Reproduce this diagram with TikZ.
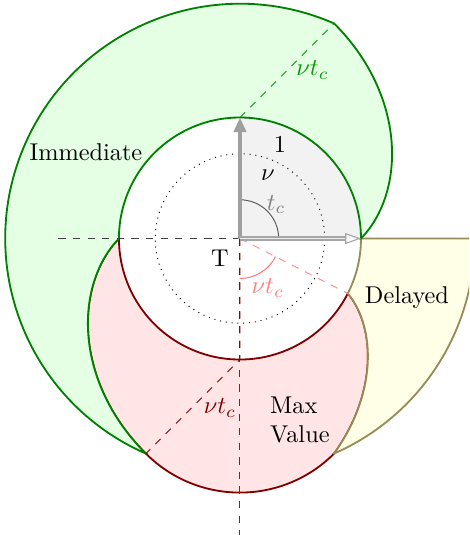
\documentclass[tikz,border=0pt]{standalone}
\usetikzlibrary{arrows.meta}
\definecolor{olivelin}{RGB}{150,140,90}
\begin{document}
\begin{tikzpicture}[x=1.75cm,y=1.75cm,
  bnd/.style={line width=0.75pt},
  grnreg/.style={bnd, draw=green!50!black, fill=green!10},
  redreg/.style={bnd, draw=red!50!black, fill=red!10},
  yelreg/.style={bnd, draw=olivelin, fill=yellow!10},
  axisdash/.style={dashed, black!75},
  lbl/.style={inner sep=1pt},
]
\pgfmathsetmacro\vv{0.7}
\pgfmathsetmacro\L{0.7*pi/2}
\pgfmathsetmacro\A{deg(\L)}
\pgfmathsetmacro\Aend{-90+\A}
\pgfmathsetmacro\h{\L/sqrt(2)}
\pgfmathsetmacro\R{sqrt(\h*\h+(1+\h)*(1+\h))}
\pgfmathsetmacro\B{atan2(1+\h,\h)}
\pgfmathsetmacro\Bend{\B+180}
\clip (-1.983,-2.450) rectangle (1.893,1.971);

\coordinate (T) at (0,0);
\coordinate (N) at (0,1);
\coordinate (S) at (0,-1);
\coordinate (E) at (1,0);
\coordinate (W) at (-1,0);
\coordinate (Ef) at (\R,0);
\coordinate (GT) at (\h,1+\h);
\coordinate (RT) at (-\h,-1-\h);
\coordinate (RP) at (\Aend:1);
\coordinate (HL) at (-1.5,0);
\coordinate (VB) at (0,-2.6);

% grey quarter
\fill[gray!10] (T) -- (E) arc[start angle=0,end angle=90,radius=1] -- cycle;

% Max value region
\draw[redreg] (W) -- plot[domain=0:90,samples=60,variable=\t]
   ({-cos(\t)-\vv*rad(\t)*cos(\t-45)},{-sin(\t)-\vv*rad(\t)*sin(\t-45)})
   arc[start angle=225,end angle=315,radius=\L]
   -- plot[domain=-90:\Aend,samples=60,variable=\s]
   ({cos(\s)+(\L-rad(\s+90))*cos(\s+45)},{sin(\s)+(\L-rad(\s+90))*sin(\s+45)})
   arc[start angle=\Aend,end angle=-180,radius=1] -- cycle;

% Delayed region
\draw[yelreg] (E) -- (Ef) arc[start angle=0,end angle=-\B,radius=\R]
   -- plot[domain=-90:\Aend,samples=60,variable=\s]
   ({cos(\s)+(\L-rad(\s+90))*cos(\s+45)},{sin(\s)+(\L-rad(\s+90))*sin(\s+45)})
   arc[start angle=\Aend,end angle=0,radius=1] -- cycle;

% Immediate region
\draw[grnreg] (E) -- plot[domain=0:90,samples=60,variable=\t]
   ({cos(\t)+\vv*rad(\t)*cos(\t-45)},{sin(\t)+\vv*rad(\t)*sin(\t-45)})
   arc[start angle=\B,end angle=\Bend,radius=\R]
   -- plot[domain=90:0,samples=60,variable=\t]
   ({-cos(\t)-\vv*rad(\t)*cos(\t-45)},{-sin(\t)-\vv*rad(\t)*sin(\t-45)})
   arc[start angle=180,end angle=0,radius=1] -- cycle;

% dotted circle
\draw[dotted] (T) circle[radius=0.7];

% dashed axes
\draw[axisdash] (HL) -- (T);
\draw[axisdash] (T) -- (VB);

% nu t_c segments
\draw[dashed, green!60!black] (N) -- (GT);
\draw[dashed, red!50!black] (T) -- (S) -- (RT);
\draw[dashed, red!45] (T) -- (RP);

% angle arcs
\draw[gray!70!black, thin] (0.32,0) arc[start angle=0,end angle=90,radius=0.32];
\draw[red!55, thin] (0,-0.33) arc[start angle=-90,end angle=\Aend,radius=0.33];

% arrows
\draw[gray!75, line width=1.5pt, -{Triangle[length=6pt,width=5pt]}] (T) -- (N);
\draw[draw=gray!70, double=gray!15, line width=0.45pt, double distance=0.8pt,
      -{Triangle[open,length=6.5pt,width=4.5pt]}] (T) -- (E);

% labels
\node[lbl] (one) at (0.33,0.78) {1};
\node[lbl] (nu) at (0.23,0.52) {$\nu$};
\node[lbl, text=gray] (tc) at (0.30,0.28) {$t_c$};
\node[lbl] (Tl) at (-0.165,-0.16) {T};
\node[lbl, text=red!50] (vtc1) at (0.23,-0.41) {$\nu t_c$};
\node[lbl, text=green!60!black] (vtc2) at (0.60,1.39) {$\nu t_c$};
\node[lbl, text=red!50!black] (vtc3) at (-0.165,-1.40) {$\nu t_c$};
\node[lbl] (imm) at (-1.273,0.715) {Immediate};
\node[lbl] (del) at (1.38,-0.49) {Delayed};
\node[lbl, anchor=west, align=left] (mv) at (0.225,-1.50) {Max\\Value};
\end{tikzpicture}
\end{document}
